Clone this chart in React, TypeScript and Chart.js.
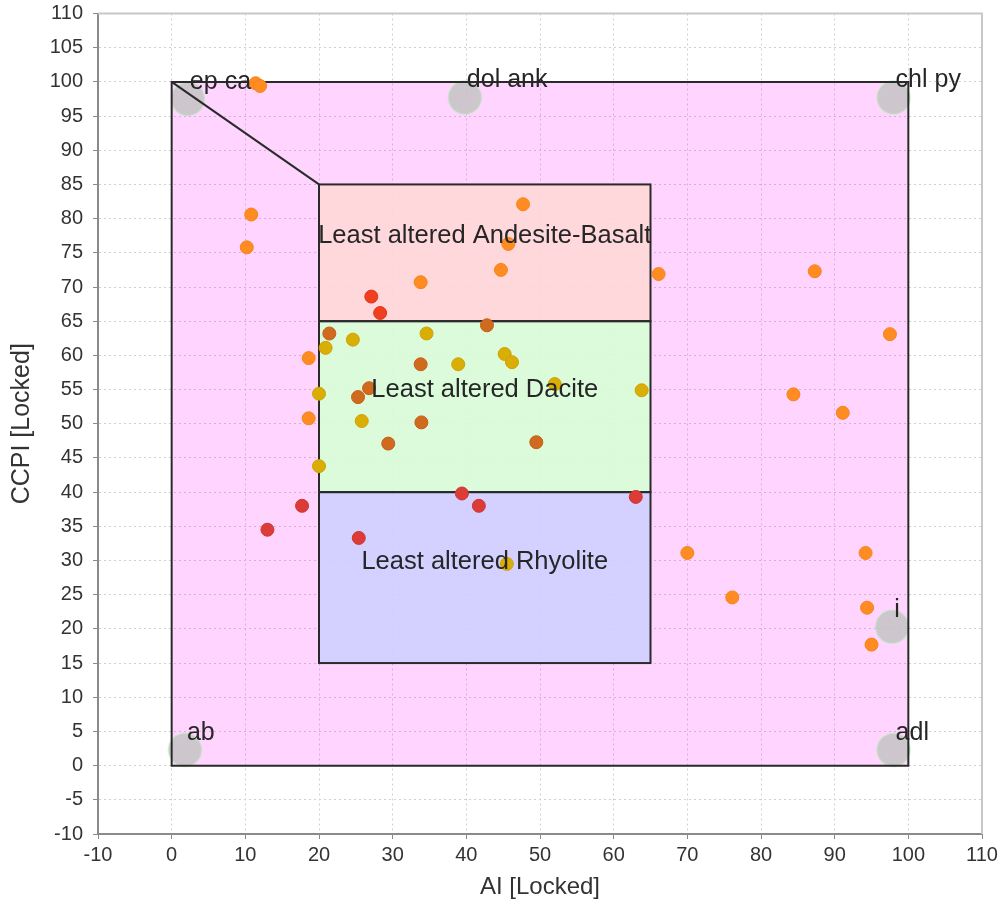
import React, { useEffect, useRef } from 'react';
import { Chart, registerables } from 'chart.js';

Chart.register(...registerables);

// ---- data ----
const orangePoints = [
  [11.4, 99.8], [12.0, 99.4], [10.8, 80.6], [10.2, 75.8], [47.7, 82.1], [45.7, 76.3],
  [44.7, 72.5], [33.8, 70.7], [66.1, 71.9], [87.3, 72.3], [97.5, 63.1], [84.4, 54.3],
  [91.1, 51.6], [18.6, 59.6], [18.6, 50.8], [70.0, 31.1], [94.2, 31.1], [76.1, 24.6],
  [94.4, 23.1], [95.0, 17.7],
];
const goldPoints = [
  [24.6, 62.3], [20.9, 61.1], [34.6, 63.2], [38.9, 58.7], [45.2, 60.2], [46.2, 59.0],
  [20.0, 54.4], [25.8, 50.4], [20.0, 43.8], [52.0, 55.8], [63.8, 54.9], [45.5, 29.5],
];
const darkOrangePoints = [
  [21.4, 63.2], [42.8, 64.4], [33.8, 58.7], [26.8, 55.2], [25.3, 53.9], [33.9, 50.2],
  [29.4, 47.1], [49.5, 47.3],
];
const redOrangePoints = [[27.1, 68.6], [28.3, 66.2]];
const redPoints = [[39.4, 39.8], [41.7, 38.0], [63.0, 39.3], [17.7, 38.0], [13.0, 34.5], [25.4, 33.3]];

const endMemberNames = ['ep ca', 'dol ank', 'chl py', 'i', 'ab', 'adl'];
const endMemberX = [2.2, 39.8, 98.0, 97.8, 1.8, 98.0];
const endMemberY = [97.5, 97.7, 97.7, 20.3, 2.3, 2.3];

// outer field polygon (AI 0-100, CCPI 0-100) and diagonal
const outerX = [0, 100, 100, 0, 0];
const outerY = [100, 100, 0, 0, 100];
const diagX = [0, 20];
const diagY = [100, 85];

const boxNames = ['Least altered Andesite-Basalt', 'Least altered Dacite', 'Least altered Rhyolite'];
const boxX0 = [20, 20, 20];
const boxX1 = [65, 65, 65];
const boxY0 = [65, 40, 15];
const boxY1 = [85, 65, 40];
const boxLabelX = [42.5, 42.5, 42.5];
const boxLabelY = [77.4, 55.0, 29.8];
const boxFills = ['rgba(255,140,140,0.30)', 'rgba(150,255,150,0.34)', 'rgba(130,130,255,0.34)'];

const FONT = "'Liberation Sans', Arial, sans-serif";

const toXY = (arr: number[][]) => arr.map(([x, y]) => ({ x, y }));

const boxPlugin = {
  id: 'boxPlugin',
  beforeDatasetsDraw(chart: any) {
    const { ctx } = chart;
    const xs = chart.scales.x;
    const ys = chart.scales.y;
    const px = (v: number) => xs.getPixelForValue(v);
    const py = (v: number) => ys.getPixelForValue(v);
    ctx.save();
    ctx.fillStyle = 'rgba(255,0,255,0.17)';
    ctx.beginPath();
    outerX.forEach((x, i) => {
      if (i === 0) ctx.moveTo(px(x), py(outerY[i]));
      else ctx.lineTo(px(x), py(outerY[i]));
    });
    ctx.closePath();
    ctx.fill();
    boxNames.forEach((_, i) => {
      const x0 = px(boxX0[i]), x1 = px(boxX1[i]);
      const y0 = py(boxY1[i]), y1 = py(boxY0[i]);
      ctx.fillStyle = 'rgba(255,255,255,0.85)';
      ctx.fillRect(x0, y0, x1 - x0, y1 - y0);
      ctx.fillStyle = boxFills[i];
      ctx.fillRect(x0, y0, x1 - x0, y1 - y0);
    });
    const ca = chart.chartArea;
    ctx.strokeStyle = '#c8c8c8';
    ctx.lineWidth = 2;
    ctx.beginPath();
    ctx.moveTo(ca.left, ca.top);
    ctx.lineTo(ca.right, ca.top);
    ctx.lineTo(ca.right, ca.bottom);
    ctx.stroke();
    ctx.restore();
  },
  afterDatasetDraw(chart: any, args: any) {
    if (args.index !== 0) return;
    const { ctx } = chart;
    const xs = chart.scales.x;
    const ys = chart.scales.y;
    const px = (v: number) => xs.getPixelForValue(v);
    const py = (v: number) => ys.getPixelForValue(v);
    ctx.save();
    ctx.strokeStyle = '#2a2a2a';
    ctx.lineWidth = 2;
    ctx.beginPath();
    outerX.forEach((x, i) => {
      if (i === 0) ctx.moveTo(px(x), py(outerY[i]));
      else ctx.lineTo(px(x), py(outerY[i]));
    });
    ctx.closePath();
    ctx.stroke();
    ctx.beginPath();
    ctx.moveTo(px(diagX[0]), py(diagY[0]));
    ctx.lineTo(px(diagX[1]), py(diagY[1]));
    ctx.stroke();
    boxNames.forEach((_, i) => {
      const x0 = px(boxX0[i]), x1 = px(boxX1[i]);
      const y0 = py(boxY1[i]), y1 = py(boxY0[i]);
      ctx.strokeRect(x0, y0, x1 - x0, y1 - y0);
    });
    ctx.restore();
  },
  afterDatasetsDraw(chart: any) {
    const { ctx } = chart;
    const xs = chart.scales.x;
    const ys = chart.scales.y;
    ctx.save();
    ctx.fillStyle = '#262626';
    ctx.textBaseline = 'middle';
    ctx.textAlign = 'center';
    ctx.font = `25.5px ${FONT}`;
    boxNames.forEach((name, i) => {
      ctx.fillText(name, xs.getPixelForValue(boxLabelX[i]), ys.getPixelForValue(boxLabelY[i]));
    });
    ctx.textAlign = 'left';
    ctx.font = `25px ${FONT}`;
    endMemberNames.forEach((name, i) => {
      ctx.fillText(name, xs.getPixelForValue(endMemberX[i]) + 2, ys.getPixelForValue(endMemberY[i]) - 17);
    });
    ctx.restore();
  },
};

export default function App() {
  const ref = useRef<HTMLCanvasElement | null>(null);
  useEffect(() => {
    if (!ref.current) return;
    const ptStyle = (color: string, border: string) => ({
      type: 'scatter' as const,
      backgroundColor: color,
      borderColor: border,
      borderWidth: 1,
      pointRadius: 6.5,
      order: 1,
    });
    const chart = new Chart(ref.current, {
      type: 'scatter',
      data: {
        datasets: [
          {
            label: 'end members',
            data: endMemberX.map((x, i) => ({ x, y: endMemberY[i] })),
            backgroundColor: 'rgba(196,196,196,0.85)',
            borderColor: 'rgba(170,240,170,0.35)',
            borderWidth: 2,
            pointRadius: 16.5,
            order: 10,
          },
          { label: 'orange', data: toXY(orangePoints), ...ptStyle('#ff8c22', '#f58418') },
          { label: 'gold', data: toXY(goldPoints), ...ptStyle('#d9ae06', '#cfa300') },
          { label: 'darkorange', data: toXY(darkOrangePoints), ...ptStyle('#d06a1e', '#c46018') },
          { label: 'redorange', data: toXY(redOrangePoints), ...ptStyle('#ee3f1f', '#e03818') },
          { label: 'red', data: toXY(redPoints), ...ptStyle('#dc3c38', '#cf3430') },
        ],
      },
      options: {
        responsive: false,
        animation: false,
        layout: { padding: { top: 8, right: 21, left: 0, bottom: 0 } },
        plugins: { legend: { display: false }, tooltip: { enabled: false } },
        scales: {
          x: {
            type: 'linear',
            min: -10,
            max: 110,
            afterFit: (s: any) => { s.height = 71; s.paddingLeft = 0; s.paddingRight = 0; },
            ticks: { stepSize: 10, color: '#333', font: { family: FONT, size: 20 }, padding: 4, maxRotation: 0 },
            grid: { color: '#d0d0d0', tickLength: 5, tickColor: '#8a8a8a', tickBorderDash: [] } as any,
            border: { display: true, color: '#8a8a8a', width: 2, dash: [2, 3] } as any,
            title: { display: true, text: 'AI [Locked]', color: '#333', font: { family: FONT, size: 24 }, padding: { top: 0, bottom: 3 } },
          },
          y: {
            type: 'linear',
            min: -10,
            max: 110,
            afterFit: (s: any) => { s.width = 98; s.paddingTop = 0; s.paddingBottom = 0; },
            ticks: { stepSize: 5, color: '#333', font: { family: FONT, size: 20 }, padding: 10 },
            grid: { color: '#d0d0d0', tickLength: 5, tickColor: '#8a8a8a', tickBorderDash: [] } as any,
            border: { display: true, color: '#8a8a8a', width: 2, dash: [2, 3] } as any,
            title: { display: true, text: 'CCPI [Locked]', color: '#333', font: { family: FONT, size: 25 }, padding: { top: 7, bottom: 0 } },
          },
        },
      },
      plugins: [boxPlugin],
    });
    return () => chart.destroy();
  }, []);
  return (
    <div style={{ position: 'absolute', left: 0, top: 0, width: 1003, height: 905, overflow: 'hidden', background: '#fff' }}>
      <canvas ref={ref} width={1003} height={910} style={{ display: 'block', position: 'absolute', left: 0, top: -5 }} />
    </div>
  );
}
